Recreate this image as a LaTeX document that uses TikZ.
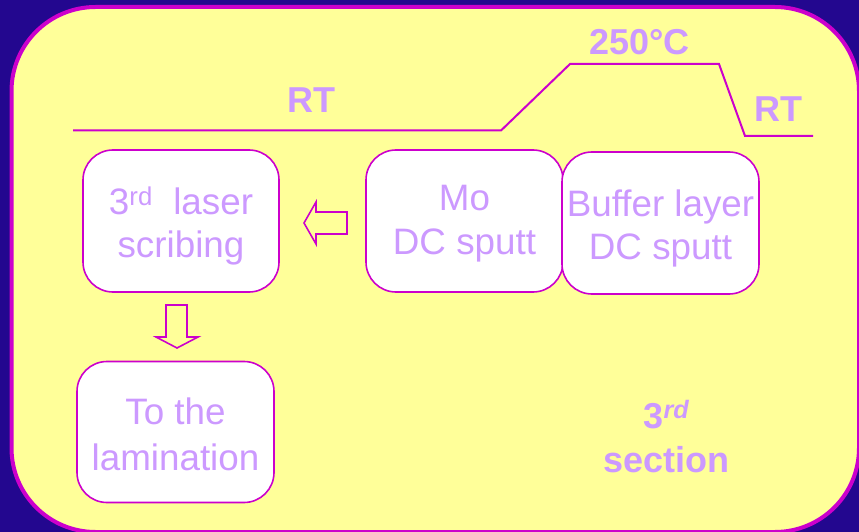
\documentclass[tikz,border=0pt]{standalone}
\usepackage{fontspec}
\setmainfont{Liberation Sans}
\definecolor{bgblue}{HTML}{23078F}
\definecolor{mag}{HTML}{CC00CC}
\definecolor{lav}{HTML}{CC99FF}
\definecolor{yel}{HTML}{FFFF99}
\newcommand{\lowerln}[2]{\raisebox{-#1}[\height][\depth]{#2}}
\begin{document}
\begin{tikzpicture}[x=1pt,y=-1pt,
  stepbox/.style={draw=mag, line width=1.6pt, fill=white, rounded corners=30pt,
    minimum width=196pt, minimum height=142pt, inner sep=0pt, align=center,
    text=lav, font=\fontsize{36.8}{44}\selectfont},
  templabel/.style={anchor=base, text=lav, font=\fontsize{36}{44}\selectfont\bfseries, inner sep=0pt},
  blockarrow/.style={draw=mag, line width=1.6pt, line join=miter}
]
\fill[bgblue] (0,0) rectangle (859,532);
\useasboundingbox (0,0) rectangle (859,532);
\draw[mag, line width=4pt, fill=yel, rounded corners=84pt] (11.5,7) rectangle (859,532);

% temperature profile
\coordinate (t0) at (73,130.5);
\coordinate (t1) at (501,130.5);
\coordinate (t2) at (570,64);
\coordinate (t3) at (719,64);
\coordinate (t4) at (745,136);
\coordinate (t5) at (813,136);
\draw[mag, line width=2pt] (t0) -- (t1) -- (t2) -- (t3) -- (t4) -- (t5);

\node[templabel] (rt1) at (311.5,113) {RT};
\node[templabel] (t250) at (639.5,55) {250°C};
\node[templabel] (rt2) at (778,122) {RT};

% process boxes
\node[stepbox] (scribe) at (181,221) {\lowerln{5pt}{3\textsuperscript{rd}\ \ laser}\\\lowerln{4.5pt}{scribing}};
\node[stepbox, minimum width=197pt] (mo) at (464.5,221) {\lowerln{2.5pt}{Mo}\\\lowerln{2.5pt}{DC sputt}};
\node[stepbox, minimum width=197pt] (buf) at (660.5,223) {\lowerln{5.5pt}{Buffer layer}\\\lowerln{4.5pt}{DC sputt}};
\node[stepbox, minimum width=197pt, minimum height=141pt, font=\fontsize{36.8}{46}\selectfont] (lam) at (175.5,432) {\lowerln{2.6pt}{To the}\\\lowerln{2.6pt}{lamination}};

% block arrows
\draw[blockarrow] (304,223) -- (316,202) -- (316,212) -- (347,212) -- (347,234) -- (316,234) -- (316,244) -- cycle;
\draw[blockarrow] (166,305) -- (187,305) -- (187,337) -- (198,337) -- (177,348) -- (156,337) -- (166,337) -- cycle;

% section label
\node[templabel] (sec3) at (666.5,428) {3\textsuperscript{\itshape rd}};
\node[templabel] (sec) at (666.5,472) {section};
\end{tikzpicture}
\end{document}
